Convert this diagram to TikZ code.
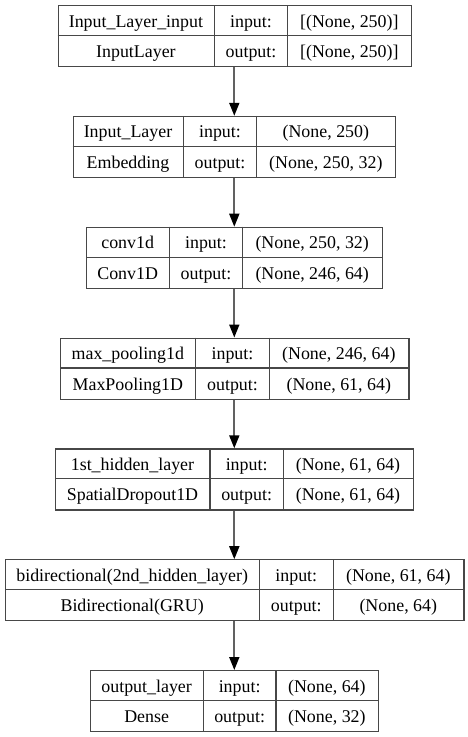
\documentclass[tikz,border=0pt]{standalone}
\usepackage{fontspec}
\setmainfont{Liberation Serif}
\usetikzlibrary{arrows.meta}
\tikzset{
  layerbox/.style={draw=black!72, line width=1.2pt, inner sep=0pt, minimum height=61pt, fill=white},
  divider/.style={draw=black!72, line width=1.2pt},
  lbl/.style={inner sep=0pt, anchor=base, text=black, font=\fontsize{17.9}{20}\selectfont},
  conn/.style={draw=black!62, line width=1.8pt, -{Triangle[length=13pt,width=10pt,color=black]}}
}
\newcommand\mybox[6]{%
  \gdef\xa{#3}\gdef\xb{#4}\gdef\xc{#5}\gdef\xd{#6}\gdef\yt{#2}%
  \pgfmathsetmacro\bw{#6-#3}%
  \node[layerbox, minimum width=\bw pt, anchor=north west] (#1) at (#3,#2) {};
  \draw[divider] (#4,#2) -- (#4,{#2+61});
  \draw[divider] (#5,#2) -- (#5,{#2+61});
  \draw[divider] (#3,{#2+30.5}) -- (#6,{#2+30.5});
}
\newcommand\mytexts[5]{%
  \node[lbl] (#1n) at ({(\xa+\xb)/2},{\yt+22}) {#2};
  \node[lbl] (#1c) at ({(\xa+\xb)/2},{\yt+52.5}) {#3};
  \node[lbl] (#1i) at ({(\xb+\xc)/2},{\yt+22}) {input:};
  \node[lbl] (#1o) at ({(\xb+\xc)/2},{\yt+52.5}) {output:};
  \node[lbl] (#1s) at ({(\xc+\xd)/2},{\yt+22}) {#4};
  \node[lbl] (#1t) at ({(\xc+\xd)/2},{\yt+52.5}) {#5};
}
\begin{document}
\begin{tikzpicture}[x=1pt, y=-1pt]
\fill[white] (0,0) rectangle (468,737);
\useasboundingbox (0,0) rectangle (468,737);

\mybox{L1}{5}{57.5}{214.3}{287.7}{411}
\mytexts{L1}{Input\_Layer\_input}{InputLayer}{[(None, 250)]}{[(None, 250)]}

\mybox{L2}{115.8}{72.7}{183.3}{256.7}{395}
\mytexts{L2}{Input\_Layer}{Embedding}{(None, 250)}{(None, 250, 32)}

\mybox{L3}{226.7}{86}{169.3}{242.7}{381.7}
\mytexts{L3}{conv1d}{Conv1D}{(None, 250, 32)}{(None, 246, 64)}

\mybox{L4}{337.5}{60}{195.7}{269.3}{408.3}
\mytexts{L4}{max\_pooling1d}{MaxPooling1D}{(None, 246, 64)}{(None, 61, 64)}

\mybox{L5}{448.3}{55}{210}{283.3}{412.7}
\mytexts{L5}{1st\_hidden\_layer}{SpatialDropout1D}{(None, 61, 64)}{(None, 61, 64)}

\mybox{L6}{559.2}{5}{259.3}{333.3}{463.3}
\mytexts{L6}{bidirectional(2nd\_hidden\_layer)}{Bidirectional(GRU)}{(None, 61, 64)}{(None, 64)}

\mybox{L7}{670}{90}{203.3}{276}{377.7}
\mytexts{L7}{output\_layer}{Dense}{(None, 64)}{(None, 32)}

\coordinate (ax) at (234.3,0);
\foreach \a/\b in {L1/L2,L2/L3,L3/L4,L4/L5,L5/L6,L6/L7}{
  \draw[conn] (\a.south -| ax) -- (\b.north -| ax);
}
\end{tikzpicture}
\end{document}
